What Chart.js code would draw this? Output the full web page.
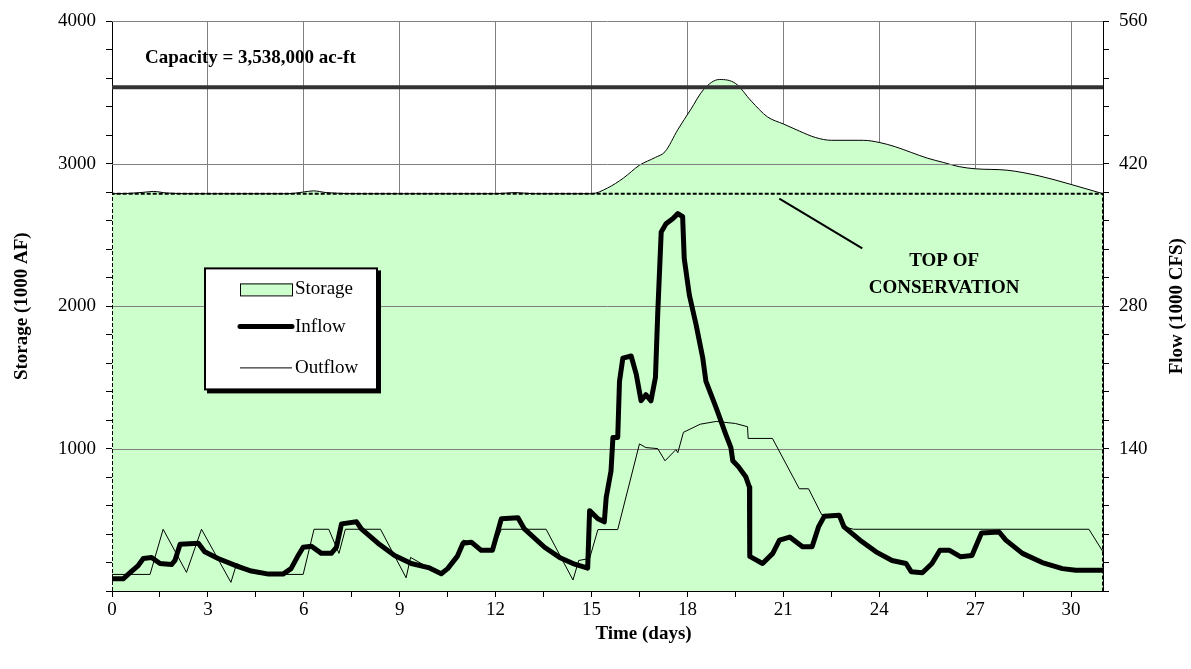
<!DOCTYPE html>
<html><head><meta charset="utf-8">
<script src="https://cdn.jsdelivr.net/npm/chart.js@4/dist/chart.umd.min.js"></script>
<style>html,body{margin:0;padding:0;background:#fff}#wrap{width:1191px;height:669px}</style>
</head><body><div id="wrap"><canvas id="c" width="1191" height="669"></canvas></div>
<script>
// ---- data (days, storage in 1000 AF, flows in 1000 CFS) ----
const xTickLabels = [0, 3, 6, 9, 12, 15, 18, 21, 24, 27, 30];
const leftTickLabels = [1000, 2000, 3000, 4000];
const rightTickLabels = [140, 280, 420, 560];

const storageDays = [0, 0.5, 1, 1.3, 1.7, 2.5, 4, 5.5, 6, 6.3, 6.7, 8, 10, 12, 12.6, 13.2, 15, 15.5, 16, 16.5, 17, 17.3, 17.7, 18.1, 18.5, 19, 19.5, 20, 20.5, 21, 21.5, 22, 22.5, 23.5, 24, 24.5, 25, 25.5, 26, 26.5, 27, 28, 29, 30, 31];
const storageValues = [2790, 2792, 2800, 2806, 2795, 2790, 2790, 2790, 2802, 2810, 2798, 2790, 2790, 2790, 2798, 2790, 2790, 2830, 2900, 2990, 3045, 3085, 3240, 3380, 3520, 3592, 3565, 3440, 3330, 3280, 3230, 3185, 3165, 3165, 3150, 3120, 3080, 3040, 3010, 2980, 2965, 2955, 2915, 2855, 2790];

const inflowDays = [0, 0.35, 0.6, 0.82, 0.98, 1.24, 1.5, 1.86, 1.97, 2.13, 2.7, 2.9, 3.32, 3.95, 4.36, 4.9, 5.35, 5.6, 5.8, 5.98, 6.24, 6.55, 6.86, 7.02, 7.18, 7.65, 7.8, 8.32, 8.84, 9.36, 9.9, 10.3, 10.5, 10.8, 10.98, 11.24, 11.55, 11.9, 12.18, 12.7, 12.9, 13.53, 14.0, 14.42, 14.88, 14.94, 15.2, 15.4, 15.46, 15.61, 15.67, 15.82, 15.875, 15.98, 16.24, 16.4, 16.55, 16.7, 16.86, 17.0, 17.07, 17.18, 17.33, 17.54, 17.7, 17.85, 17.9, 18.06, 18.27, 18.48, 18.58, 18.9, 19.2, 19.36, 19.42, 19.6, 19.83, 19.94, 19.95, 20.35, 20.67, 20.88, 21.2, 21.6, 21.9, 22.1, 22.28, 22.75, 22.9, 23.4, 23.9, 24.4, 24.84, 25.0, 25.35, 25.65, 25.9, 26.2, 26.55, 26.9, 27.2, 27.75, 27.96, 28.48, 29.1, 29.73, 30.15, 31];
const inflowValues = [12, 12, 19, 25, 32, 33, 27, 26, 30, 46, 47, 38.5, 32, 24, 19.6, 16.6, 16.6, 22, 33.6, 43, 44, 37, 37, 43, 66, 68, 61, 47, 35, 27, 23, 17, 22, 34, 47, 48, 40, 40, 71, 72, 61, 43, 33, 27, 22.5, 79, 71, 68, 92, 118, 151, 151, 206, 229, 231, 213, 187, 193, 187, 210, 272, 353, 361, 366, 371, 368, 327, 291, 262, 229, 206, 180, 154, 141, 128, 122, 112, 102, 34, 27, 37, 50, 53, 43.5, 43.5, 63, 73.4, 74.4, 63, 50, 38.5, 30, 27, 19, 18, 27, 40, 40, 33.6, 35, 57, 58, 50, 37, 28, 22, 20.5, 20.5];

const outflowDays = [0, 1.19, 1.6, 2.33, 2.8, 3.72, 3.9, 4.6, 5.98, 6.32, 6.78, 7.1, 7.3, 8.4, 9.2, 9.34, 9.9, 10.3, 10.5, 10.8, 10.98, 11.24, 11.55, 11.9, 12.18, 13.58, 14.42, 14.6, 14.94, 15.2, 15.82, 16.5, 16.7, 17.07, 17.3, 17.64, 17.7, 17.875, 18.4, 18.9, 19.5, 19.88, 19.9, 20.66, 21.5, 21.79, 22.2, 22.75, 22.9, 23.2, 30.56, 31];
const outflowValues = [16.3, 16.3, 60.7, 18.3, 60.7, 8.5, 27, 16.3, 16.3, 60.7, 60.7, 37, 60.7, 60.7, 13, 33, 23, 17, 22, 34, 50, 48, 40, 40, 60.7, 60.7, 10.8, 30, 32, 60.4, 60.4, 144.6, 141, 140, 128, 139, 136, 156, 164, 166.7, 164.7, 161.5, 150, 150, 100.5, 100.5, 75, 74.4, 63, 60.7, 60.7, 38.5];

const capacity = 3538;
const topOfConservation = 2790;
const dayRange = [0, 31];

// ---- helpers ----
const pts = (xs, ys) => xs.map((x, i) => ({x: x, y: ys[i]}));
const FONT = "'Liberation Serif', 'Times New Roman', serif";

const decor = {
  id: 'decor',
  afterDatasetDraw(chart, args) {
    if (args.index !== 0) return;
    const {ctx, chartArea: ca, scales} = chart;
    ctx.save();
    ctx.strokeStyle = '#808080';
    ctx.lineWidth = 1;
    leftTickLabels.forEach(v => {
      const y = Math.round(scales.y.getPixelForValue(v)) + 0.5;
      ctx.beginPath(); ctx.moveTo(ca.left, y); ctx.lineTo(ca.right, y); ctx.stroke();
    });
    ctx.restore();
  },
  afterDatasetsDraw(chart) {
    const {ctx, chartArea: ca, scales} = chart;
    const xs = scales.x, ys = scales.y;
    ctx.save();
    // capacity label
    ctx.fillStyle = '#000';
    ctx.font = 'bold 19px ' + FONT;
    ctx.textAlign = 'left'; ctx.textBaseline = 'middle';
    ctx.fillText('Capacity = 3,538,000 ac-ft', xs.getPixelForValue(1.03), ys.getPixelForValue(3741));
    // top of conservation annotation
    ctx.strokeStyle = '#000'; ctx.lineWidth = 2;
    ctx.beginPath();
    ctx.moveTo(xs.getPixelForValue(20.875), ys.getPixelForValue(2755));
    ctx.lineTo(xs.getPixelForValue(23.47), ys.getPixelForValue(2406));
    ctx.stroke();
    ctx.textAlign = 'center';
    ctx.fillText('TOP OF', xs.getPixelForValue(26.03), ys.getPixelForValue(2318));
    ctx.fillText('CONSERVATION', xs.getPixelForValue(26.03), ys.getPixelForValue(2125));
    // legend box
    const L = ca.left + 93, T = ca.top + 247, W = 172, H = 121;
    ctx.fillStyle = '#000'; ctx.fillRect(L + 2, T + 2, W + 2, H + 2);
    ctx.fillStyle = '#fff'; ctx.fillRect(L, T, W, H);
    ctx.lineWidth = 2; ctx.strokeStyle = '#000'; ctx.strokeRect(L, T, W, H);
    const sx = L + 35, sw = 52;
    ctx.fillStyle = '#CCFFCC'; ctx.fillRect(sx, T + 15, sw, 12);
    ctx.lineWidth = 1; ctx.strokeRect(sx + 0.5, T + 15.5, sw, 12);
    ctx.lineCap = 'round';
    ctx.lineWidth = 5; ctx.beginPath(); ctx.moveTo(sx, T + 58); ctx.lineTo(sx + sw, T + 58); ctx.stroke();
    ctx.lineCap = 'butt';
    ctx.lineWidth = 1; ctx.beginPath(); ctx.moveTo(sx, T + 99.5); ctx.lineTo(sx + sw, T + 99.5); ctx.stroke();
    ctx.fillStyle = '#000';
    ctx.font = '19px ' + FONT; ctx.textAlign = 'left'; ctx.textBaseline = 'middle';
    ctx.fillText('Storage', sx + sw + 3, T + 21);
    ctx.fillText('Inflow', sx + sw + 3, T + 59);
    ctx.fillText('Outflow', sx + sw + 3, T + 100);
    ctx.restore();
  },
  afterDraw(chart) {
    const {ctx, chartArea: ca} = chart;
    ctx.save();
    ctx.fillStyle = '#000';
    ctx.font = 'bold 19px ' + FONT;
    ctx.textAlign = 'center'; ctx.textBaseline = 'middle';
    const cy = (ca.top + ca.bottom) / 2;
    ctx.save(); ctx.translate(22, cy); ctx.rotate(-Math.PI / 2); ctx.fillText('Storage (1000 AF)', 0, 0); ctx.restore();
    ctx.save(); ctx.translate(1177, cy); ctx.rotate(-Math.PI / 2); ctx.fillText('Flow (1000 CFS)', 0, 0); ctx.restore();
    ctx.fillText('Time (days)', (ca.left + ca.right) / 2 + 36, 634);
    ctx.restore();
  }
};

const tickFont = {family: FONT, size: 19};

new Chart(document.getElementById('c'), {
  type: 'line',
  data: {
    datasets: [
      {label: 'Storage', data: pts(storageDays, storageValues), yAxisID: 'y', borderColor: '#000', borderWidth: 1,
       backgroundColor: '#CCFFCC', fill: 'origin', pointRadius: 0, cubicInterpolationMode: 'monotone', order: 10},
      {label: 'Top of Conservation', data: [{x: dayRange[0], y: 0}, {x: dayRange[0], y: topOfConservation}, {x: dayRange[1], y: topOfConservation}, {x: dayRange[1], y: 0}],
       yAxisID: 'y', borderColor: '#000', borderWidth: 2, borderDash: [4, 2], fill: false, pointRadius: 0, tension: 0, order: 6},
      {label: 'Capacity', data: [{x: dayRange[0], y: capacity}, {x: dayRange[1], y: capacity}], yAxisID: 'y',
       borderColor: '#333333', borderWidth: 4, fill: false, pointRadius: 0, order: 5},
      {label: 'Outflow', data: pts(outflowDays, outflowValues), yAxisID: 'y2', borderColor: '#000', borderWidth: 1,
       fill: false, pointRadius: 0, tension: 0, order: 2},
      {label: 'Inflow', data: pts(inflowDays, inflowValues), yAxisID: 'y2', borderColor: '#000', borderWidth: 5,
       borderJoinStyle: 'round', borderCapStyle: 'round', fill: false, pointRadius: 0, tension: 0, order: 1}
    ]
  },
  options: {
    responsive: false,
    animation: false,
    devicePixelRatio: 1,
    layout: {padding: {top: 20, left: 0, right: 0, bottom: 0}},
    plugins: {legend: {display: false}, tooltip: {enabled: false}, title: {display: false}},
    scales: {
      x: {
        type: 'linear', min: dayRange[0], max: dayRange[1],
        ticks: {stepSize: 1.5, includeBounds: false, autoSkip: false, maxRotation: 0, color: '#000', font: tickFont, padding: 2,
                callback: v => xTickLabels.includes(v) ? String(v) : ''},
        grid: {color: c => (c.tick && c.tick.value > 0 && c.tick.value % 3 === 0) ? '#808080' : 'rgba(0,0,0,0)',
               tickColor: '#000', tickLength: 6, lineWidth: 1},
        border: {display: true, color: '#000', width: 1},
        afterFit: s => { s.height = 78; }
      },
      y: {
        position: 'left', min: 0, max: 4000,
        ticks: {stepSize: 200, autoSkip: false, color: '#000', font: tickFont, padding: 10,
                callback: v => leftTickLabels.includes(v) ? String(v) : ''},
        grid: {color: 'rgba(0,0,0,0)', tickColor: '#000', tickLength: 6},
        border: {display: true, color: '#000', width: 1},
        afterFit: s => { s.width = 112; }
      },
      y2: {
        position: 'right', min: 0, max: 560,
        ticks: {stepSize: 28, autoSkip: false, color: '#000', font: tickFont, padding: 10,
                callback: v => rightTickLabels.includes(v) ? String(v) : ''},
        grid: {drawOnChartArea: false, tickColor: '#000', tickLength: 6},
        border: {display: true, color: '#000', width: 1},
        afterFit: s => { s.width = 88; }
      }
    }
  },
  plugins: [decor]
});
</script></body></html>
